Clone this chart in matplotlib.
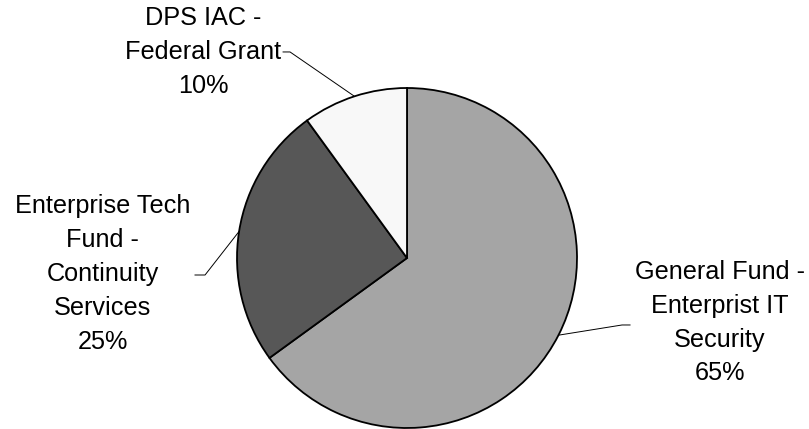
import numpy as np
import matplotlib
matplotlib.use("Agg")
import matplotlib.pyplot as plt

labels = ["General Fund -\nEnterprist IT\nSecurity", "Enterprise Tech\nFund -\nContinuity\nServices", "DPS IAC -\nFederal Grant"]
values = [65, 25, 10]
colors = ["#A5A5A5", "#575757", "#F8F8F8"]

# layout (data coords, radius = 1)
text_pos = [(1.84, -0.38), (-1.79, -0.095), (-1.2, 1.212)]
elbows = [((1.265, -0.394), (1.312, -0.394)),
          ((-1.188, -0.10), (-1.247, -0.10)),
          ((-0.688, 1.212), (-0.729, 1.212))]

plt.rcParams['font.family'] = ['Liberation Sans', 'DejaVu Sans']
W, H = 809, 429
fig = plt.figure(figsize=(W / 100, H / 100), dpi=100)
cx, cy, r = 407, 258, 170
ax = fig.add_axes([(cx - r) / W, (H - cy - r) / H, 2 * r / W, 2 * r / H])
wedges, _ = ax.pie(values, colors=colors, startangle=90, counterclock=False, radius=1,
                   wedgeprops=dict(edgecolor="black", linewidth=1.3))
for w in wedges:
    w.set_clip_on(False)
ax.set_xlim(-1, 1)
ax.set_ylim(-1, 1)
ax.set_aspect('equal')
ax.axis('off')

total = sum(values)
for w, lab, v, tp, (el, en) in zip(wedges, labels, values, text_pos, elbows):
    ang = np.deg2rad((w.theta1 + w.theta2) / 2)
    px, py = np.cos(ang), np.sin(ang)
    ax.plot([px, el[0], en[0]], [py, el[1], en[1]], color="black", lw=0.7, clip_on=False)
    ax.text(tp[0], tp[1], f"{lab}\n{round(100 * v / total)}%", ha="center", va="center",
            fontsize=18.2, linespacing=1.52, clip_on=False)

fig.savefig("out.png", dpi=100)
